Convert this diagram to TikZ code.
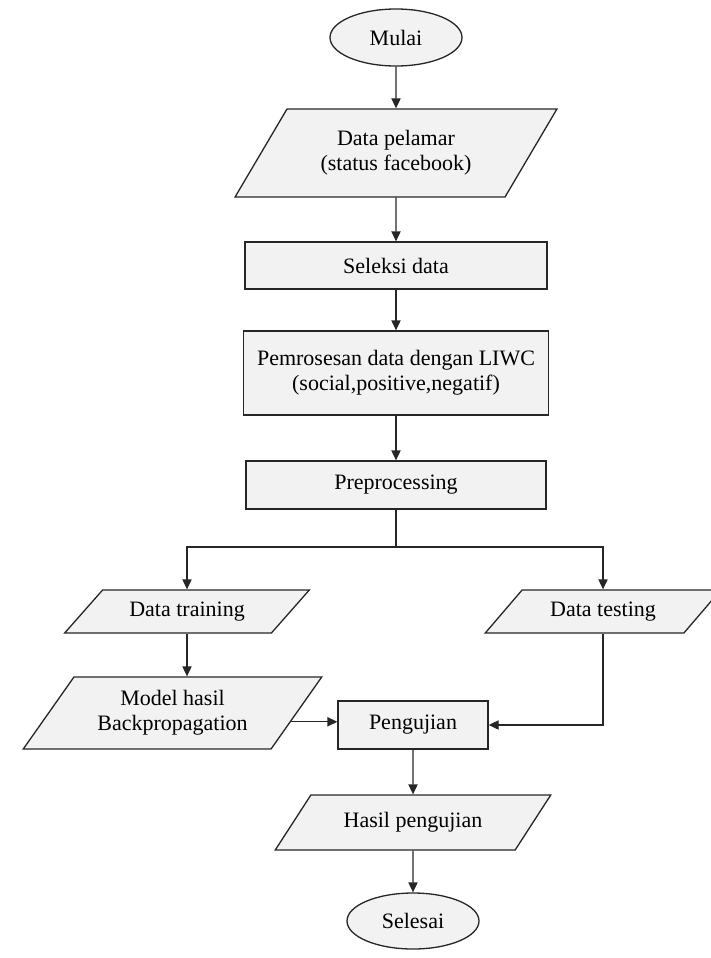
\documentclass[tikz,border=0pt]{standalone}
\usepackage{fontspec}
\setmainfont{Liberation Serif}
\usetikzlibrary{shapes.geometric,arrows.meta,calc}
\definecolor{boxgray}{HTML}{F2F2F2}
\definecolor{linegray}{HTML}{262626}
\tikzset{
    base/.style={draw=linegray, line width=0.65pt, fill=boxgray, inner sep=1pt, align=center},
    terminal/.style={base, ellipse, minimum width=66pt, minimum height=28.5pt},
    proses/.style={base, rectangle},
    datain/.style={base, trapezium, trapezium stretches=true,
        trapezium left angle=#1, trapezium right angle=180-#1},
    datain/.default=50,
    arah/.style={-{Triangle[length=5pt,width=4.6pt]}, line width=0.65pt, draw=linegray},
    garis/.style={line width=0.65pt, draw=linegray}
}

\begin{document}
\begin{tikzpicture}[x=0.5pt, y=-0.5pt, font=\fontsize{11}{12.5}\selectfont]
        \useasboundingbox (0,0) rectangle (711,958);
        \node[terminal] (mulai) at (396,37.5) {Mulai};
        \node[datain=53, minimum width=161pt, minimum height=44pt] (pelamar) at (396,153)
            {Data pelamar\\(status facebook)};
        \node[proses, minimum width=151pt, minimum height=23.5pt] (seleksi) at (396,265.5) {Seleksi data};
        \node[proses, minimum width=152.5pt, minimum height=42pt] (liwc) at (396,373)
            {Pemrosesan data dengan LIWC\\(social,positive,negatif)};
        \node[proses, minimum width=150pt, minimum height=24pt] (prepro) at (396,485) {Preprocessing};
        \coordinate (cabang) at (396,547);
        \node[datain=41, minimum width=123pt, minimum height=21.5pt] (training) at (187,611.5) {Data training};
        \node[datain=43, minimum width=118pt, minimum height=21.5pt] (testing) at (603,611.5) {Data testing};
        \node[datain=51, minimum width=149.5pt, minimum height=36pt] (model) at (172.5,713)
            {Model hasil\\Backpropagation};
        \node[proses, minimum width=75pt, minimum height=24pt] (uji) at (413,725) {Pengujian};
        \node[datain=44, minimum width=139pt, minimum height=27.5pt] (hasil) at (413,822.5) {Hasil pengujian};
        \node[terminal, minimum height=28pt] (selesai) at (413,921) {Selesai};

        \draw[arah] (mulai) -- (pelamar);
        \draw[arah] (pelamar) -- (seleksi);
        \draw[arah] (seleksi) -- (liwc);
        \draw[arah] (liwc) -- (prepro);
        \draw[garis] (prepro.south) -- (cabang);
        \draw[arah] (cabang) -| (training.north);
        \draw[arah] (cabang) -| (testing.north);
        \draw[arah] (training.south) -- (training.south |- model.north);
        \coordinate (keluar) at ($(model.top right corner)!0.62!(model.bottom right corner)$);
        \draw[arah] (keluar) -- (keluar -| uji.west);
        \draw[arah] (testing.south) |- (uji.east);
        \draw[arah] (uji) -- (hasil);
        \draw[arah] (hasil) -- (selesai);
    \end{tikzpicture}
\end{document}
